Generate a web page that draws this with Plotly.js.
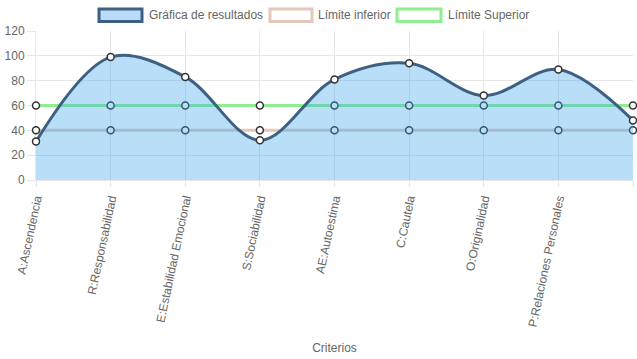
<!DOCTYPE html>
<html>
<head>
<meta charset="utf-8">
<script src="https://cdn.plot.ly/plotly-3.0.1.min.js"></script>
<style>html,body{margin:0;padding:0;background:#fff;}#chart{width:637px;height:359px;}</style>
</head>
<body>
<div id="chart"></div>
<script>
const categories = ["A:Ascendencia","R:Responsabilidad","E:Estabilidad Emocional","S:Sociabilidad","AE:Autoestima","C:Cautela","O:Originalidad","P:Relaciones Personales","V:Vigor"];
const resultados = [31, 99, 83, 32, 81, 94, 68, 89, 48];
const limiteInferior = [40, 40, 40, 40, 40, 40, 40, 40, 40];
const limiteSuperior = [60, 60, 60, 60, 60, 60, 60, 60, 60];
const seriesNames = ["Gráfica de resultados", "Límite inferior", "Límite Superior"];
const yTicks = [0, 20, 40, 60, 80, 100, 120];

const marker = {size: 7, color: '#ffffff', line: {color: '#333333', width: 1.5}};
const idx = categories.map((_, i) => i);

const traces = [
  {x: idx, y: limiteSuperior, type: 'scatter', mode: 'lines+markers', name: seriesNames[2],
   line: {color: 'rgb(144,238,144)', width: 3}, marker: marker, hoverinfo: 'none', cliponaxis: false},
  {x: idx, y: limiteInferior, type: 'scatter', mode: 'lines+markers', name: seriesNames[1],
   line: {color: 'rgb(228,200,188)', width: 3}, marker: marker, hoverinfo: 'none', cliponaxis: false},
  {x: idx, y: resultados, type: 'scatter', mode: 'lines+markers', name: seriesNames[0],
   line: {color: 'rgb(62,96,130)', width: 3, shape: 'spline', smoothing: 1},
   fill: 'tozeroy', fillcolor: 'rgba(54,162,235,0.35)', marker: marker, hoverinfo: 'none', cliponaxis: false}
];

const L = 36, R = 633, T = 31, B = 180;
const px = v => (v - L) / (R - L);
const py = v => (B - v) / (B - T);

const legendItems = [
  {x0: 99, x1: 142, fill: 'rgb(185,220,248)', border: 'rgb(62,96,130)', text: seriesNames[0], tx: 147},
  {x0: 270, x1: 312, fill: '#ffffff', border: 'rgb(228,200,188)', text: seriesNames[1], tx: 316},
  {x0: 397, x1: 441, fill: '#ffffff', border: 'rgb(144,238,144)', text: seriesNames[2], tx: 446}
];
const shapes = legendItems.map(it => ({
  type: 'rect', xref: 'paper', yref: 'paper', x0: px(it.x0), x1: px(it.x1), y0: py(21.5), y1: py(9),
  fillcolor: it.fill, line: {color: it.border, width: 3}
}));
const annotations = legendItems.map(it => ({
  xref: 'paper', yref: 'paper', x: px(it.tx), y: py(15), xanchor: 'left', yanchor: 'middle',
  text: it.text, showarrow: false, font: {family: 'Liberation Sans, Arial, sans-serif', size: 12, color: '#666'}
}));

const layout = {
  width: 637, height: 359,
  margin: {l: L, r: 637 - R, t: T, b: 359 - B},
  paper_bgcolor: '#fff', plot_bgcolor: '#fff',
  showlegend: false,
  font: {family: 'Liberation Sans, Arial, sans-serif', size: 12, color: '#666'},
  xaxis: {
    range: [0, categories.length - 1], tickmode: 'array', tickvals: idx, ticktext: categories,
    tickangle: -78, showgrid: true, gridcolor: '#e6e6e6', zeroline: false, layer: 'below traces',
    ticks: 'outside', ticklen: 6, tickcolor: '#e6e6e6', showline: true, linecolor: '#e6e6e6',
    title: {text: 'Criterios', font: {size: 12, color: '#666'}, standoff: 16},
    fixedrange: true
  },
  yaxis: {
    range: [0, 120], tickmode: 'array', tickvals: yTicks, showgrid: true, gridcolor: '#e6e6e6',
    zeroline: false, ticks: 'outside', ticklen: 8, tickcolor: '#e6e6e6', showline: true, linecolor: '#e6e6e6',
    layer: 'below traces', fixedrange: true
  },
  shapes: shapes,
  annotations: annotations
};

Plotly.newPlot('chart', traces, layout, {displayModeBar: false, staticPlot: true});
</script>
</body>
</html>
